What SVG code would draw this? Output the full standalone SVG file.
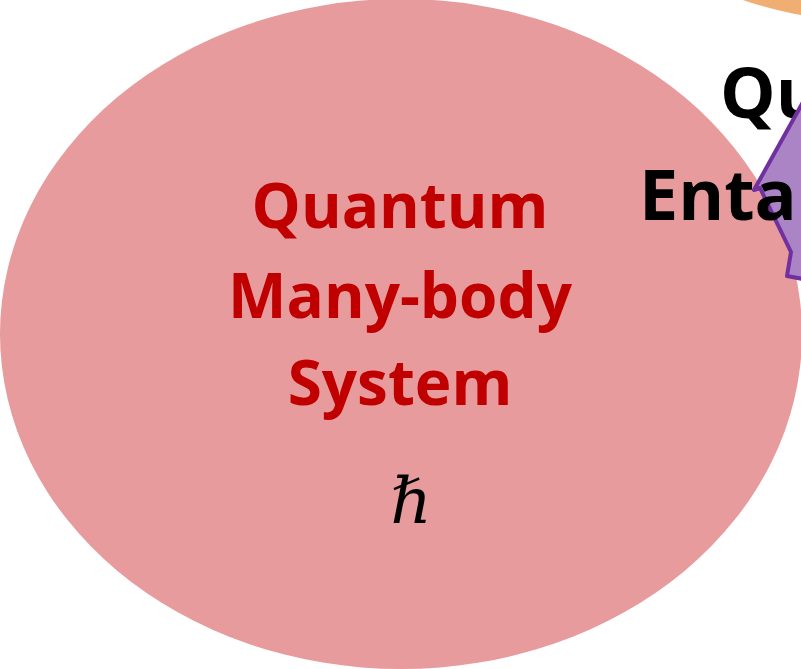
<svg xmlns="http://www.w3.org/2000/svg" width="801" height="669" viewBox="0 0 801 669">
<style>
.red{font-family:"Open Sans","Liberation Sans",sans-serif;font-weight:bold;fill:#C00000;font-size:62px;text-anchor:middle}
.blk{font-family:"Open Sans","Liberation Sans",sans-serif;font-weight:bold;fill:#000;font-size:70px}
</style>
<rect width="801" height="669" fill="#fff"/>
<g id="orange-node"><circle cx="877" cy="-398" r="420" fill="#F0AE72"/></g>
<g id="many-body-node">
<ellipse cx="401" cy="334" rx="401" ry="335" fill="#E79B9C"/>
<text class="red" x="400" y="228">Quantum</text>
<text class="red" x="400" y="318">Many-body</text>
<text class="red" x="400" y="405">System</text>
<text x="411" y="523" font-family="'DejaVu Serif','Liberation Serif',serif" font-style="italic" font-size="64" text-anchor="middle">ℏ</text>
</g>
<g id="entanglement-node">
<text class="blk" x="720" y="118">Qu</text>
<path d="M803,102 L754,190 L760,188 L791,252 L787,276 L803,279" fill="#AB84C6" stroke="#7030A0" stroke-width="4" stroke-linejoin="round"/>
<text class="blk" x="639" y="220">Enta</text>
</g>
</svg>
